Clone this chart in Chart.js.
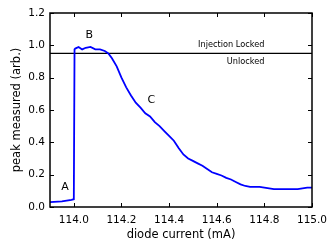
<!DOCTYPE html>
<html>
<head>
<meta charset="utf-8">
<script src="https://cdn.jsdelivr.net/npm/chart.js@4"></script>
<style>
html,body{margin:0;padding:0;background:#fff;}
#wrap{width:335px;height:252px;}
</style>
</head>
<body>
<div id="wrap"><canvas id="c" width="335" height="252"></canvas></div>
<script>
// diode current (mA)
const currentMA = [113.90,113.95,113.99,114.00,114.003,114.006,114.02,114.035,114.05,114.07,114.09,114.11,114.13,114.145,114.16,114.18,114.20,114.22,114.24,114.26,114.28,114.30,114.32,114.34,114.36,114.38,114.40,114.42,114.44,114.46,114.48,114.50,114.52,114.54,114.56,114.58,114.60,114.62,114.64,114.66,114.68,114.70,114.72,114.74,114.76,114.78,114.80,114.82,114.84,114.86,114.88,114.90,114.92,114.94,114.96,114.98,115.00];
// peak measured (arb.)
const peakMeasured = [0.030,0.035,0.044,0.048,0.975,0.980,0.990,0.975,0.985,0.990,0.975,0.975,0.965,0.950,0.920,0.870,0.800,0.740,0.690,0.645,0.615,0.580,0.560,0.525,0.500,0.470,0.440,0.410,0.365,0.325,0.300,0.285,0.270,0.255,0.235,0.215,0.205,0.195,0.180,0.170,0.155,0.140,0.130,0.125,0.125,0.125,0.120,0.115,0.110,0.110,0.110,0.110,0.110,0.110,0.115,0.120,0.120];
const lockThreshold = 0.95;
const xTicks = [114.0,114.2,114.4,114.6,114.8,115.0];
const yTicks = [0.0,0.2,0.4,0.6,0.8,1.0,1.2];
const labelTexts = ['A','B','C'];
const labelX = [113.963,114.065,114.325];
const labelY = [0.12,1.066,0.664];
const regionTexts = ['Injection Locked','Unlocked'];
const regionX = [114.80,114.80];
const regionY = [1.0,0.895];

const FONT = 'DejaVu Sans';

const framePlugin = {
  id: 'framePlugin',
  afterDatasetsDraw(chart) {
    const {ctx, chartArea: a, scales: {x, y}} = chart;
    ctx.save();
    ctx.strokeStyle = '#000';
    ctx.lineWidth = 1;
    ctx.beginPath();
    x.ticks.forEach(t => {
      const px = Math.round(x.getPixelForValue(t.value)) + 0.5;
      ctx.moveTo(px, a.bottom); ctx.lineTo(px, a.bottom - 4);
      ctx.moveTo(px, a.top); ctx.lineTo(px, a.top + 4);
    });
    y.ticks.forEach(t => {
      const py = Math.round(y.getPixelForValue(t.value)) + 0.5;
      ctx.moveTo(a.left, py); ctx.lineTo(a.left + 4, py);
      ctx.moveTo(a.right, py); ctx.lineTo(a.right - 4, py);
    });
    ctx.stroke();
    ctx.lineWidth = 1.5;
    ctx.strokeRect(a.left, a.top, a.right - a.left, a.bottom - a.top);
    ctx.fillStyle = '#000';
    ctx.textBaseline = 'middle';
    ctx.textAlign = 'center';
    ctx.font = '11px "' + FONT + '"';
    labelTexts.forEach((t, i) => {
      ctx.fillText(t, x.getPixelForValue(labelX[i]), y.getPixelForValue(labelY[i]));
    });
    ctx.textAlign = 'right';
    ctx.font = '8.2px "' + FONT + '"';
    regionTexts.forEach((t, i) => {
      ctx.fillText(t, x.getPixelForValue(regionX[i]), y.getPixelForValue(regionY[i]));
    });
    ctx.restore();
  }
};

new Chart(document.getElementById('c'), {
  type: 'line',
  data: {
    datasets: [
      {
        data: currentMA.map((v, i) => ({x: v, y: peakMeasured[i]})),
        borderColor: '#0000ff',
        borderWidth: 1.8,
        pointRadius: 0,
        tension: 0,
        fill: false
      },
      {
        data: [{x: currentMA[0], y: lockThreshold}, {x: currentMA[currentMA.length - 1], y: lockThreshold}],
        borderColor: '#000000',
        borderWidth: 1.4,
        pointRadius: 0,
        fill: false
      }
    ]
  },
  options: {
    responsive: false,
    animation: false,
    devicePixelRatio: 1,
    layout: {padding: {left: 0, top: 13, right: 23, bottom: 0}},
    plugins: {legend: {display: false}, tooltip: {enabled: false}},
    scales: {
      x: {
        type: 'linear',
        min: 113.9,
        max: 115.0,
        afterBuildTicks: s => { s.ticks = xTicks.map(v => ({value: v})); },
        afterFit: s => { s.height = 45; },
        grid: {display: false, drawTicks: false},
        border: {display: false},
        ticks: {
          color: '#000',
          font: {family: FONT, size: 10.5},
          padding: 7,
          maxRotation: 0,
          autoSkip: false,
          callback: v => Number(v).toFixed(1)
        },
        title: {
          display: true,
          text: 'diode current (mA)',
          color: '#000',
          font: {family: FONT, size: 11.5},
          padding: {top: 0, bottom: 10}
        }
      },
      y: {
        type: 'linear',
        min: 0,
        max: 1.2,
        afterBuildTicks: s => { s.ticks = yTicks.map(v => ({value: v})); },
        afterFit: s => { s.width = 50; },
        grid: {display: false, drawTicks: false},
        border: {display: false},
        ticks: {
          color: '#000',
          font: {family: FONT, size: 10.5},
          padding: 5,
          autoSkip: false,
          callback: v => Number(v).toFixed(1)
        },
        title: {
          display: true,
          text: 'peak measured (arb.)',
          color: '#000',
          font: {family: FONT, size: 11.5},
          padding: {top: 10, bottom: 0}
        }
      }
    }
  },
  plugins: [framePlugin]
});
</script>
</body>
</html>
